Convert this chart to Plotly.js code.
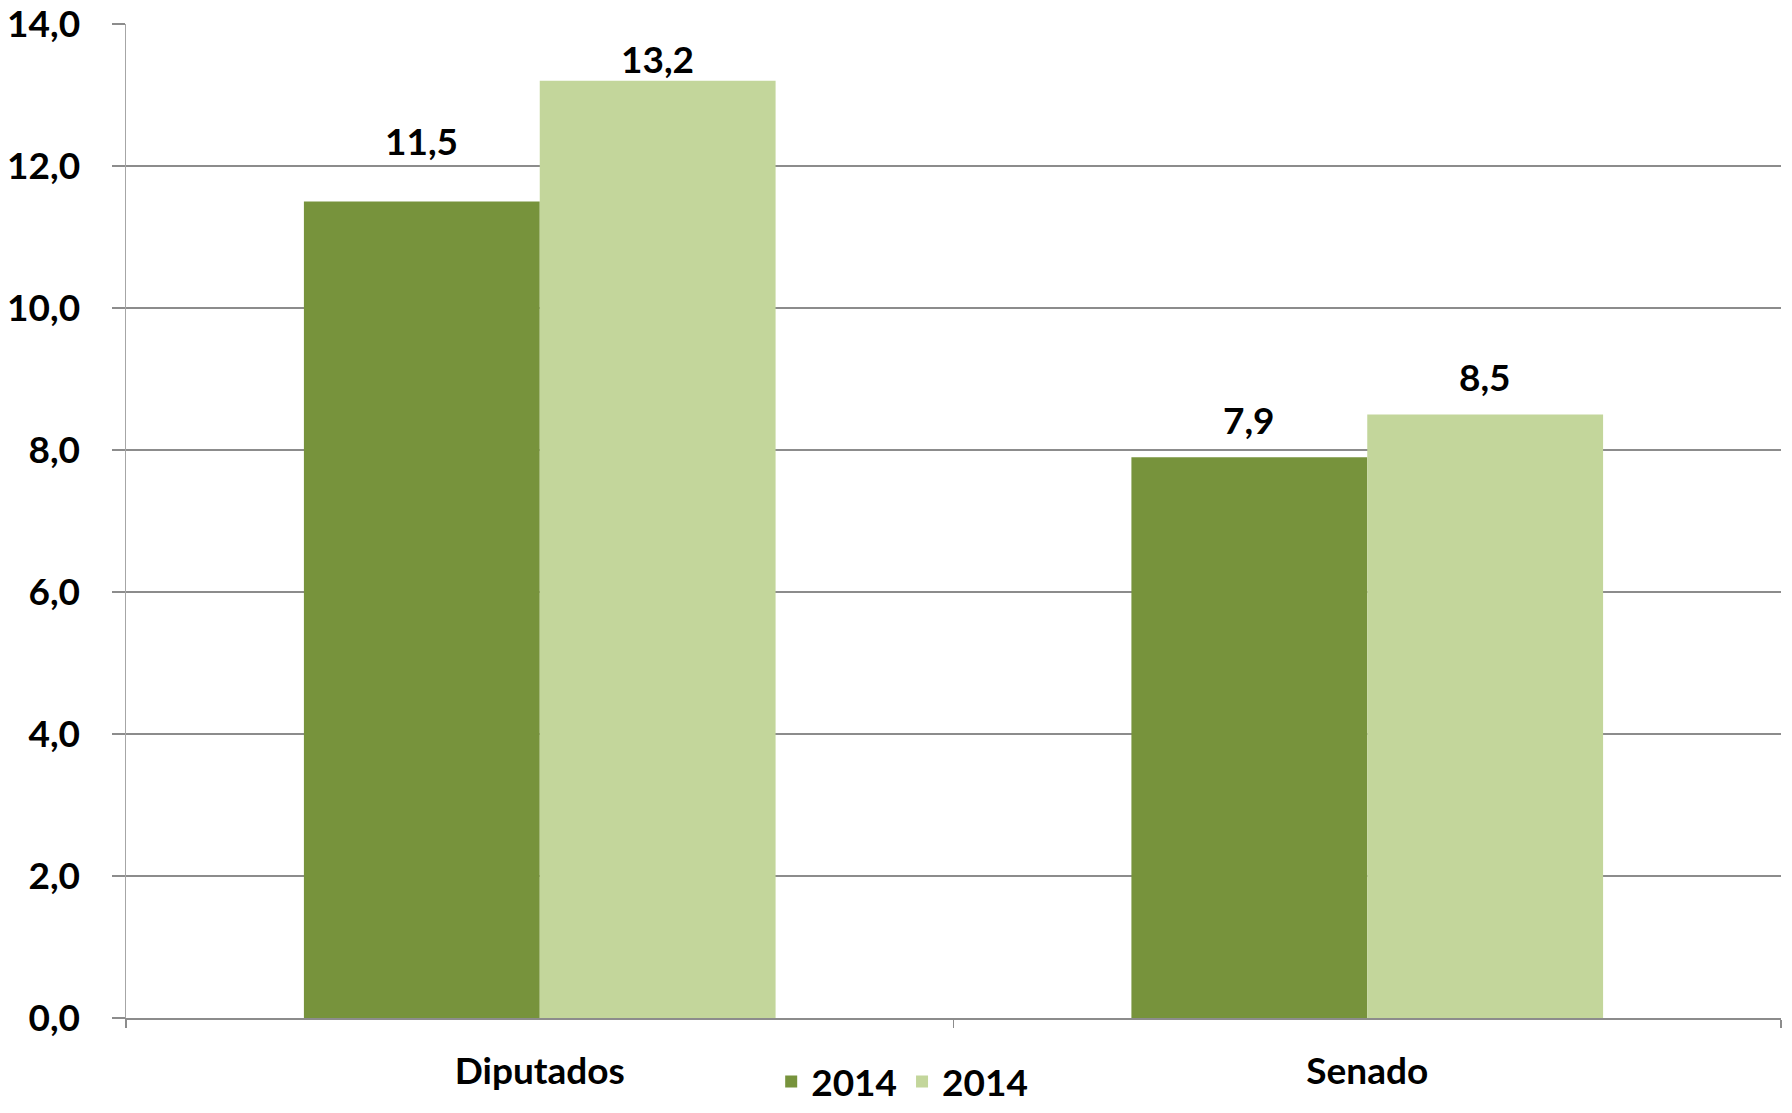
<!DOCTYPE html>
<html>
<head>
<meta charset="utf-8">
<script src="https://cdn.plot.ly/plotly-3.0.1.min.js"></script>
<style>html,body{margin:0;padding:0;background:#fff}#chart{width:1792px;height:1113px}</style>
</head>
<body>
<div id="chart"></div>
<script>
const categories = ["Diputados", "Senado"];
const seriesNames = ["2014", "2014"];
const seriesA = [11.5, 7.9];
const seriesB = [13.2, 8.5];
const yTickVals = [0, 2, 4, 6, 8, 10, 12, 14];

const colors = ["#77933C", "#C3D69B"];
const labelLift = [[61, 38], [22, 38]];
const FONT = "Lato, 'Open Sans', sans-serif";
const W = 1792, H = 1113;
const margin = {l: 126, r: 11, t: 24, b: 95, autoexpand: false};
const bargap = 0.43;

const plotW = W - margin.l - margin.r;
const catW = plotW / categories.length;
const barW = catW * (1 - bargap) / 2;

const series = [seriesA, seriesB];
const traces = series.map((vals, i) => ({
  type: "bar",
  name: seriesNames[i],
  x: categories,
  y: vals,
  marker: {color: colors[i], line: {width: 0}},
  hoverinfo: "skip"
}));

const fmt = v => v.toFixed(1).replace(".", ",");
const annotations = [];
series.forEach((vals, i) => {
  vals.forEach((v, j) => {
    annotations.push({
      x: categories[j], y: v, xref: "x", yref: "y",
      text: fmt(v), showarrow: false,
      xshift: (i === 0 ? -1 : 1) * barW / 2,
      yshift: labelLift[i][j],
      yanchor: "middle",
      font: {family: FONT, size: 37, color: "#000", weight: "bold"}
    });
  });
});

const layout = {
  width: W, height: H,
  margin: margin,
  paper_bgcolor: "#fff", plot_bgcolor: "#fff",
  separators: ",.",
  barmode: "group",
  bargap: bargap,
  bargroupgap: 0,
  showlegend: true,
  legend: {
    orientation: "h", x: 0.469, xanchor: "center", y: -0.0956, yanchor: "bottom",
    font: {family: FONT, size: 37, color: "#000", weight: "bold"},
    itemwidth: 30, tracegroupgap: 0, bgcolor: "rgba(0,0,0,0)"
  },
  xaxis: {
    type: "category",
    showgrid: false,
    showline: true, linecolor: "#8c8c8c", linewidth: 1.5,
    ticks: "outside", tickson: "boundaries", ticklen: 8, tickcolor: "#8c8c8c", tickwidth: 1.5,
    ticklabelstandoff: 20,
    tickfont: {family: FONT, size: 37, color: "#000", weight: "bold"},
    zeroline: false, fixedrange: true
  },
  yaxis: {
    range: [0, 14.001],
    tickvals: yTickVals,
    tickformat: ".1f",
    showgrid: true, gridcolor: "#8c8c8c", gridwidth: 2,
    showline: true, linecolor: "#a6a6a6", linewidth: 1.5,
    ticks: "outside", ticklen: 13, tickcolor: "#8c8c8c", tickwidth: 2,
    ticklabelstandoff: 24,
    tickfont: {family: FONT, size: 37, color: "#000", weight: "bold"},
    zeroline: false, fixedrange: true
  },
  annotations: annotations
};

Plotly.newPlot("chart", traces, layout, {displayModeBar: false, staticPlot: true});
</script>
</body>
</html>
